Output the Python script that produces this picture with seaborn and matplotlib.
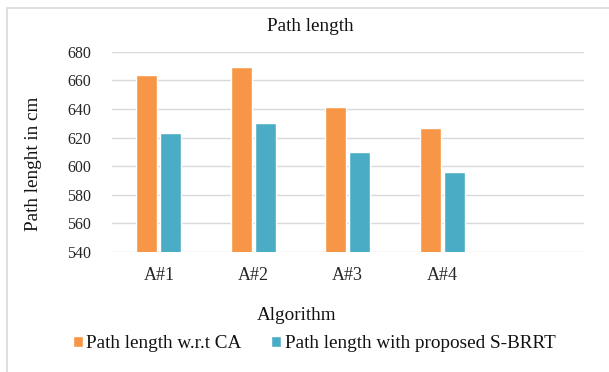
import matplotlib
matplotlib.use("Agg")
import matplotlib.pyplot as plt
from matplotlib.lines import Line2D
import seaborn as sns
import pandas as pd

# Data
algorithms = ["A#1", "A#2", "A#3", "A#4"]
series_names = ["Path length w.r.t CA", "Path length with proposed S-BRRT"]
length_ca = [664, 669, 641, 627]
length_sbrrt = [623, 630, 610, 596]
y_ticks = [540, 560, 580, 600, 620, 640, 660, 680]

colors = ["#F79646", "#4BACC6"]

df = pd.DataFrame({
    "Algorithm": algorithms * 2,
    "Series": [series_names[0]] * len(algorithms) + [series_names[1]] * len(algorithms),
    "Value": length_ca + length_sbrrt,
})

sns.set_theme(style="white")
plt.rcParams["font.family"] = ["Liberation Serif", "DejaVu Serif"]
plt.rcParams["text.color"] = "#111111"

W, H = 609, 372
fig = plt.figure(figsize=(W / 100, H / 100), dpi=100)
ax = fig.add_axes([111.7 / W, 1 - 252 / H, (583.7 - 111.7) / W, (252 - 51.7) / H])

sns.barplot(data=df, x="Algorithm", y="Value", hue="Series", order=algorithms,
            hue_order=series_names, palette=colors, width=0.508, gap=0.125,
            saturation=1, ax=ax, legend=True, errorbar=None)

# Fifth category slot is left empty
ax.set_xlim(-0.5, 4.5)
ax.set_ylim(540, 680)
ax.set_yticks(y_ticks)
ax.set_yticklabels([str(v) for v in y_ticks], fontsize=11.5)
ax.set_xticks(range(len(algorithms)))
ax.set_xticklabels(algorithms, fontsize=13)
ax.tick_params(axis="y", length=0, pad=15)
ax.tick_params(axis="x", length=0, pad=11)
ax.set_xlabel("")
ax.set_ylabel("")

ax.grid(False)
for v in y_ticks:
    ax.axhline(v, color="#D9D9D9", lw=1.0, zorder=0)
for s in ax.spines.values():
    s.set_visible(False)
ax.set_axisbelow(True)

handles, labels = ax.get_legend_handles_labels()
ax.get_legend().remove()
fig.legend(handles, labels, loc="center", bbox_to_anchor=(314.2 / W, 1 - 343.5 / H),
           ncol=2, frameon=False, fontsize=13.8, handlelength=0.52, handleheight=0.52,
           handletextpad=0.2, columnspacing=1.55, borderpad=0.0)

fig.text(310.5 / W, 1 - 30.7 / H, "Path length", ha="center", va="baseline", fontsize=13.8)
fig.text(296.3 / W, 1 - 320.3 / H, "Algorithm", ha="center", va="baseline", fontsize=13.8)
fig.text(33 / W, 1 - 164 / H, "Path lenght in cm", ha="center", va="center",
         rotation=90, fontsize=13.8)

# Chart area border
fig.add_artist(Line2D([7 / W, 1], [1 - 8 / H, 1 - 8 / H], color="#D9D9D9", lw=1.2))
fig.add_artist(Line2D([7 / W, 7 / W], [0, 1 - 8 / H], color="#D9D9D9", lw=1.2))

fig.savefig("out.png", dpi=100)
